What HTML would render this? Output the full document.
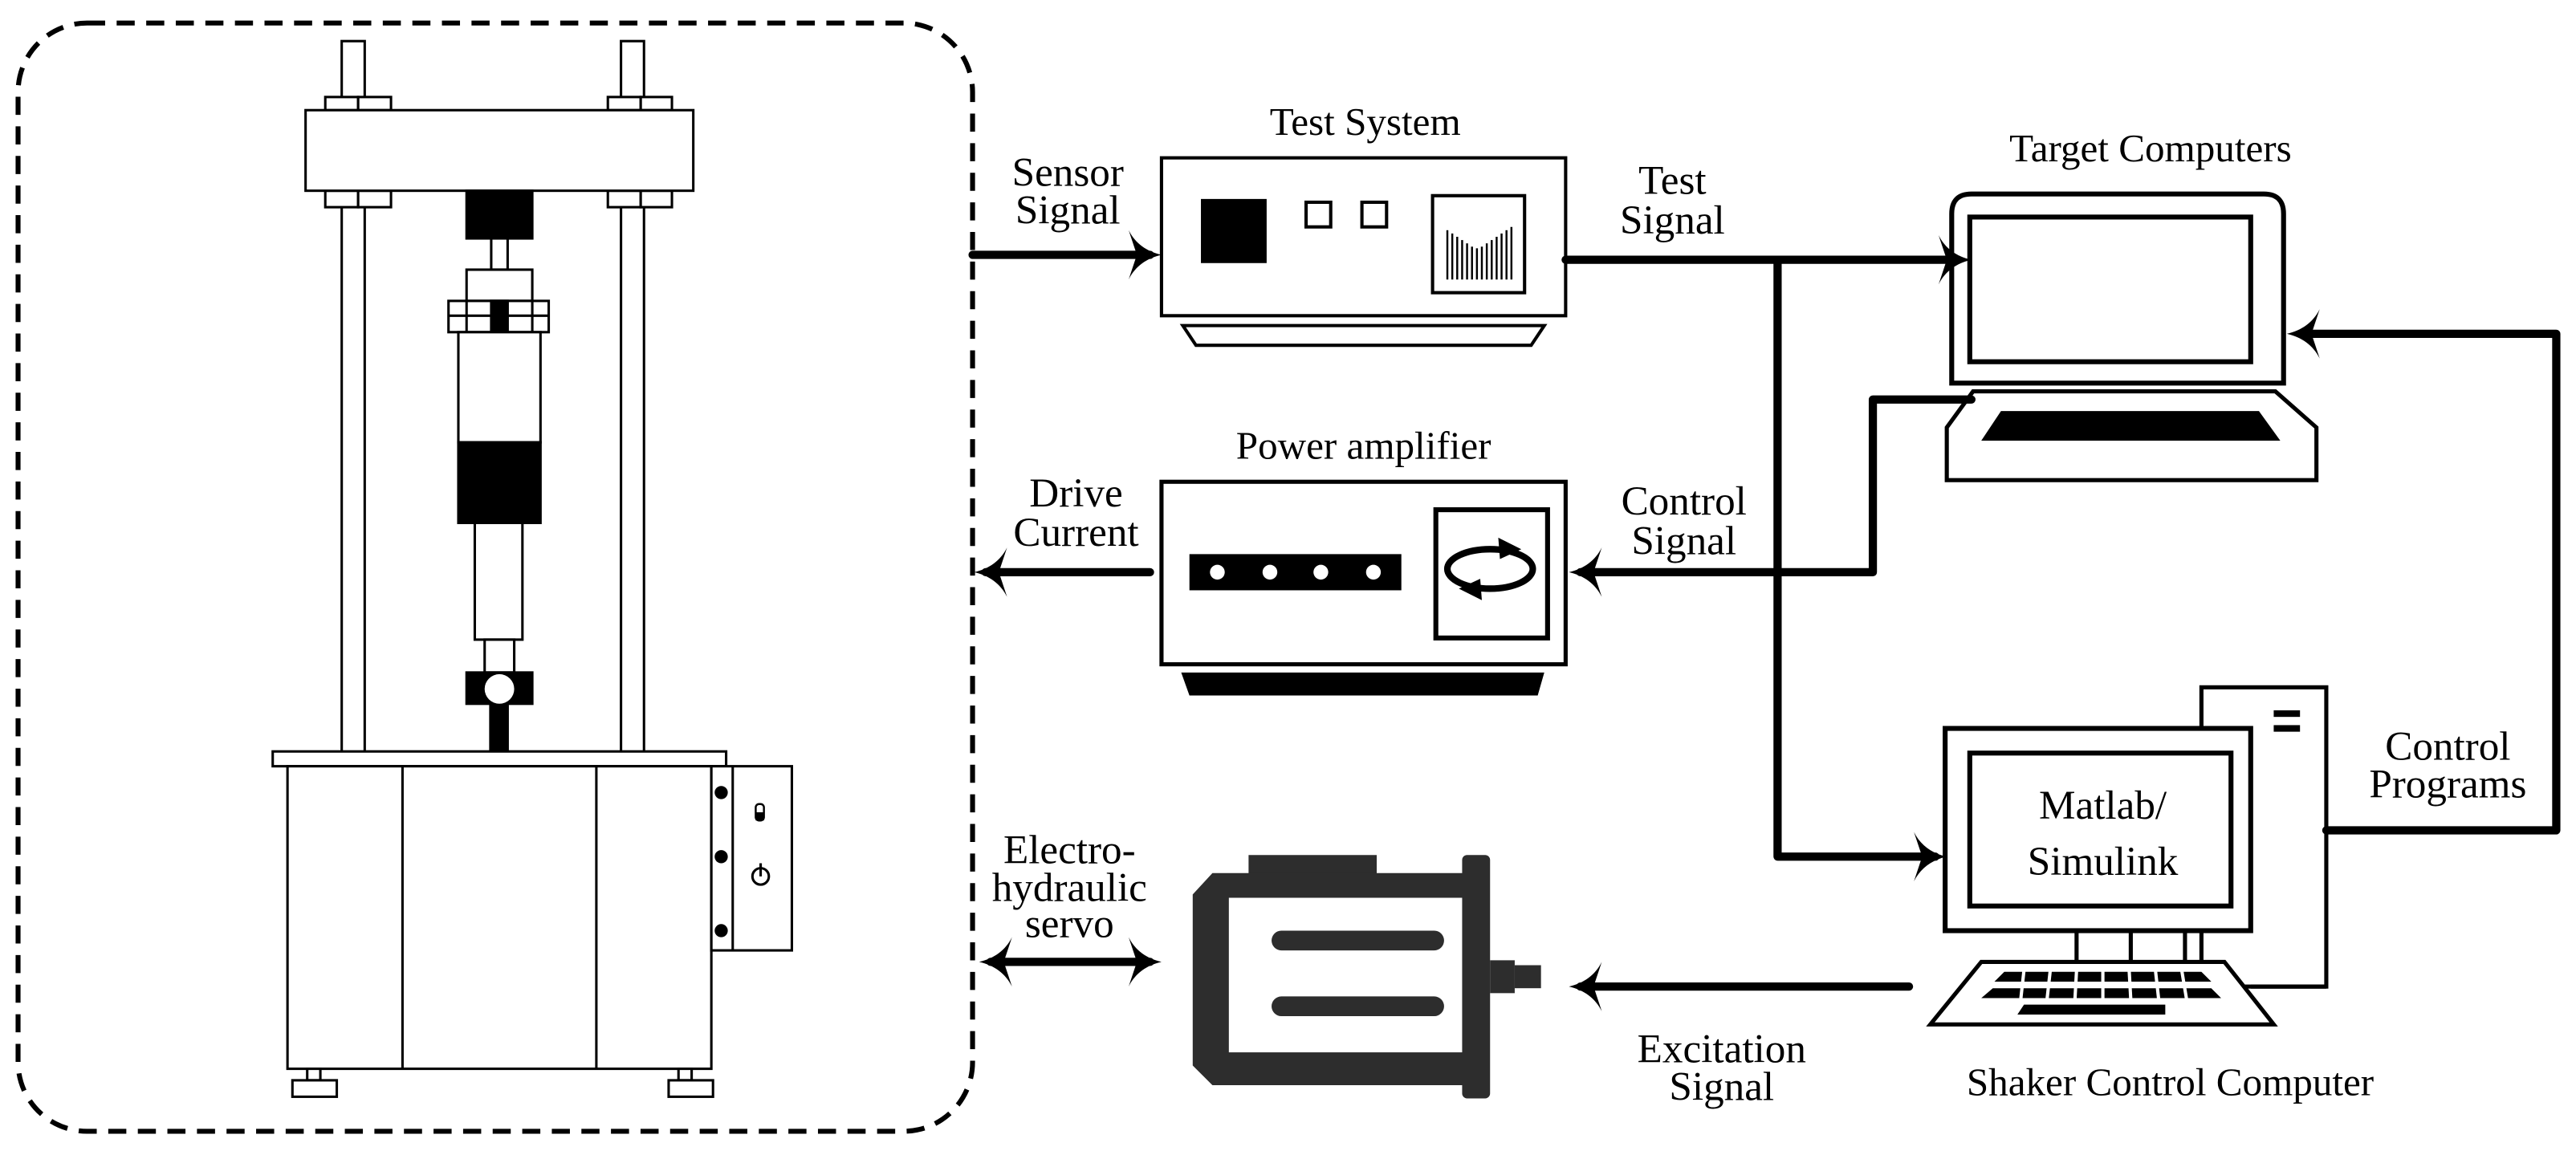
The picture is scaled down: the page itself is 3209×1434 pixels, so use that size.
<!DOCTYPE html>
<html><head><meta charset="utf-8"><style>
html,body{margin:0;padding:0;background:#fff;}
svg{display:block;}
svg text{font-family:"Liberation Serif","DejaVu Serif","Times New Roman",serif !important;fill:#000;}
</style></head><body>
<svg width="3209" height="1434" viewBox="0 0 1568 700" preserveAspectRatio="none" xmlns="http://www.w3.org/2000/svg" font-family="Liberation Serif, DejaVu Serif, serif">
<defs>
<path id="ah" d="M0 0 C-9 -2 -16 -7 -20 -15 L -15 0 L -20 15 C -16 7 -9 2 0 0Z" fill="#000"/>
</defs>
<rect width="1568" height="700" fill="#fff"/>
<rect x="11" y="14" width="581" height="674" rx="42" fill="none" stroke="#000" stroke-width="3" stroke-dasharray="11 7"/>

<g fill="#fff" stroke="#000" stroke-width="1.5">
<rect x="208" y="25" width="14" height="433"/>
<rect x="378" y="25" width="14" height="433"/>
<rect x="198" y="59" width="20" height="8"/><rect x="218" y="59" width="20" height="8"/>
<rect x="370" y="59" width="20" height="8"/><rect x="390" y="59" width="19" height="8"/>
<rect x="198" y="116" width="20" height="10"/><rect x="218" y="116" width="20" height="10"/>
<rect x="370" y="116" width="20" height="10"/><rect x="390" y="116" width="19" height="10"/>
<rect x="186" y="67" width="236" height="49"/>
<rect x="284" y="116" width="40" height="29" fill="#000"/>
<rect x="299" y="145" width="10" height="19"/>
<rect x="284" y="164" width="40" height="19"/>
<rect x="273" y="183" width="61" height="19"/>
<line x1="284" y1="183" x2="284" y2="202"/><line x1="324" y1="183" x2="324" y2="202"/>
<line x1="273" y1="192" x2="334" y2="192"/>
<rect x="299" y="183" width="10" height="19" fill="#000"/>
<rect x="279" y="202" width="50" height="67"/>
<rect x="279" y="269" width="50" height="49" fill="#000"/>
<rect x="289" y="318" width="29" height="71"/>
<rect x="295" y="389" width="18" height="20"/>
<rect x="284" y="409" width="40" height="19" fill="#000"/>
<rect x="298.5" y="428" width="10.5" height="29" fill="#000"/>
<circle cx="304" cy="419" r="9" fill="#fff" stroke="none"/>
<rect x="166" y="457" width="276" height="9"/>
<rect x="175" y="466" width="258" height="184"/>
<line x1="245" y1="466" x2="245" y2="650"/><line x1="363" y1="466" x2="363" y2="650"/>
<rect x="433" y="466" width="49" height="112"/>
<line x1="446" y1="466" x2="446" y2="578"/>
<rect x="187" y="650" width="8" height="7"/><rect x="178" y="657" width="27" height="10"/>
<rect x="413" y="650" width="8" height="7"/><rect x="407" y="657" width="27" height="10"/>
</g>
<circle cx="439" cy="482" r="4" fill="#000"/>
<circle cx="439" cy="521" r="4" fill="#000"/>
<circle cx="439" cy="566" r="4" fill="#000"/>
<rect x="460" y="489" width="5" height="10" rx="2" fill="#fff" stroke="#000" stroke-width="1.2"/>
<rect x="460" y="494" width="5" height="5" fill="#000"/>
<circle cx="463" cy="533" r="5" fill="none" stroke="#000" stroke-width="1.5"/>
<line x1="463" y1="525" x2="463" y2="533" stroke="#000" stroke-width="1.5"/>

<text x="831" y="82" font-size="24" text-anchor="middle">Test System</text>
<rect x="707" y="96" width="246" height="96" fill="#fff" stroke="#000" stroke-width="2"/>
<path d="M720 198 L940 198 L932 210 L728 210Z" fill="#fff" stroke="#000" stroke-width="2"/>
<rect x="731" y="121" width="40" height="39" fill="#000"/>
<rect x="795" y="123" width="15" height="15" fill="#fff" stroke="#000" stroke-width="2"/>
<rect x="829" y="123" width="15" height="15" fill="#fff" stroke="#000" stroke-width="2"/>
<rect x="872" y="119" width="56" height="59" fill="#fff" stroke="#000" stroke-width="2"/>
<g stroke="#000" stroke-width="1.2">
<line x1="881" y1="140" x2="881" y2="170"/><line x1="884" y1="142" x2="884" y2="170"/>
<line x1="887" y1="144" x2="887" y2="170"/><line x1="890" y1="146" x2="890" y2="170"/>
<line x1="893" y1="148" x2="893" y2="170"/><line x1="896" y1="150" x2="896" y2="170"/>
<line x1="899" y1="151" x2="899" y2="170"/><line x1="902" y1="150" x2="902" y2="170"/>
<line x1="905" y1="148" x2="905" y2="170"/><line x1="908" y1="146" x2="908" y2="170"/>
<line x1="911" y1="144" x2="911" y2="170"/><line x1="914" y1="142" x2="914" y2="170"/>
<line x1="917" y1="140" x2="917" y2="170"/><line x1="920" y1="138" x2="920" y2="170"/>
</g>

<text x="830" y="279" font-size="24" text-anchor="middle">Power amplifier</text>
<rect x="707" y="293" width="246" height="111" fill="#fff" stroke="#000" stroke-width="2.5"/>
<path d="M719 409 L940 409 L936 423 L724 423Z" fill="#000"/>
<rect x="724" y="337" width="129" height="22" fill="#000"/>
<circle cx="741" cy="348" r="4.5" fill="#fff"/><circle cx="773" cy="348" r="4.5" fill="#fff"/>
<circle cx="804" cy="348" r="4.5" fill="#fff"/><circle cx="836" cy="348" r="4.5" fill="#fff"/>
<rect x="874" y="310" width="68" height="78" fill="#fff" stroke="#000" stroke-width="3"/>
<ellipse cx="907" cy="346" rx="26" ry="12" fill="none" stroke="#000" stroke-width="4"/>
<path d="M912 327 L926 334 L913 340Z" fill="#000"/>
<path d="M902 365 L888 358 L901 352Z" fill="#000"/>

<text x="1309" y="98" font-size="24" text-anchor="middle">Target Computers</text>
<path d="M1188 233 L1188 130 Q1188 118 1200 118 L1378 118 Q1390 118 1390 130 L1390 233Z" fill="#fff" stroke="#000" stroke-width="3"/>
<rect x="1199" y="132" width="171" height="88" fill="#fff" stroke="#000" stroke-width="3"/>
<path d="M1201 238 L1385 238 L1410 260 L1410 292 L1185 292 L1185 260Z" fill="#fff" stroke="#000" stroke-width="2.5"/>
<path d="M1218 250 L1375 250 L1388 268 L1206 268Z" fill="#000"/>

<rect x="1340" y="418" width="76" height="182" fill="#fff" stroke="#000" stroke-width="2.5"/>
<rect x="1384" y="432" width="16" height="4" fill="#000"/>
<rect x="1384" y="441" width="16" height="4" fill="#000"/>
<rect x="1184" y="443" width="186" height="123" fill="#fff" stroke="#000" stroke-width="3"/>
<rect x="1199" y="458" width="159" height="93" fill="#fff" stroke="#000" stroke-width="3"/>
<text x="1280" y="498" font-size="25" text-anchor="middle">Matlab/</text>
<text x="1280" y="532" font-size="25" text-anchor="middle">Simulink</text>
<g stroke="#000" stroke-width="2.5">
<line x1="1264" y1="566" x2="1264" y2="585"/><line x1="1297" y1="566" x2="1297" y2="585"/><line x1="1330" y1="566" x2="1330" y2="585"/>
</g>
<path d="M1206 585 L1354 585 L1384 623 L1175 623Z" fill="#fff" stroke="#000" stroke-width="2.5"/>
<g fill="#000">
<path d="M1220 591 L1340 591 L1346 597 L1214 597Z"/>
<path d="M1213 601 L1346 601 L1352 607 L1206 607Z"/>
<path d="M1232 611 L1318 611 L1318 617 L1228 617Z"/>
</g>
<g stroke="#fff" stroke-width="2">
<line x1="1232" y1="590" x2="1230" y2="608"/><line x1="1248" y1="590" x2="1246" y2="608"/>
<line x1="1264" y1="590" x2="1263" y2="608"/><line x1="1280" y1="590" x2="1280" y2="608"/>
<line x1="1296" y1="590" x2="1297" y2="608"/><line x1="1312" y1="590" x2="1314" y2="608"/>
<line x1="1328" y1="590" x2="1331" y2="608"/>
</g>
<path d="M1370 600 L1416 600" stroke="#000" stroke-width="2.5"/>
<text x="1321" y="666" font-size="24" text-anchor="middle">Shaker Control Computer</text>

<g fill="#2d2d2d">
<rect x="760" y="520" width="78" height="14"/>
<path d="M738 531 L893 531 L893 660 L738 660 L726 648 L726 544Z"/>
<rect x="890" y="520" width="17" height="148" rx="3"/>
<rect x="907" y="584" width="15" height="20"/>
<rect x="922" y="587" width="16" height="14"/>
</g>
<rect x="748" y="546" width="142" height="94" fill="#fff"/>
<rect x="774" y="566" width="105" height="12" rx="6" fill="#2d2d2d"/>
<rect x="774" y="606" width="105" height="12" rx="6" fill="#2d2d2d"/>

<g stroke="#000" stroke-width="5" fill="none" stroke-linejoin="round" stroke-linecap="round">
<line x1="592" y1="155" x2="700" y2="155"/>
<line x1="700" y1="348" x2="600" y2="348"/>
<line x1="603" y1="585" x2="700" y2="585"/>
<line x1="953" y1="158" x2="1192" y2="158"/>
<polyline points="1082,158 1082,521 1178,521"/>
<polyline points="1200,243 1140,243 1140,348 962,348"/>
<line x1="1162" y1="600" x2="962" y2="600"/>
<polyline points="1416,505 1556,505 1556,203 1400,203"/>
</g>
<use href="#ah" transform="translate(707,155)"/>
<use href="#ah" transform="translate(593,348) rotate(180)"/>
<use href="#ah" transform="translate(596,585) rotate(180)"/>
<use href="#ah" transform="translate(707,585)"/>
<use href="#ah" transform="translate(1200,158)"/>
<use href="#ah" transform="translate(1185,521)"/>
<use href="#ah" transform="translate(955,348) rotate(180)"/>
<use href="#ah" transform="translate(955,600) rotate(180)"/>
<use href="#ah" transform="translate(1392,203) rotate(180)"/>

<g font-size="25" text-anchor="middle">
<text x="650" y="113">Sensor</text><text x="650" y="136">Signal</text>
<text x="1018" y="118">Test</text><text x="1018" y="142">Signal</text>
<text x="655" y="308">Drive</text><text x="655" y="332">Current</text>
<text x="1025" y="313">Control</text><text x="1025" y="337">Signal</text>
<text x="651" y="525">Electro-</text><text x="651" y="548">hydraulic</text><text x="651" y="570">servo</text>
<text x="1048" y="646">Excitation</text><text x="1048" y="669">Signal</text>
<text x="1490" y="462">Control</text><text x="1490" y="485">Programs</text>
</g>
</svg>
</body></html>
